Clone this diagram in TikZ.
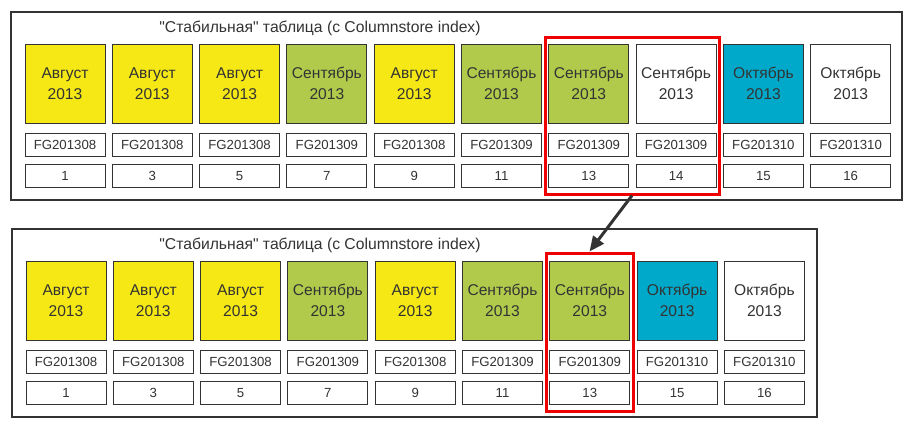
\documentclass[tikz,border=0pt]{standalone}
\usepackage{fontspec}
\setmainfont{Liberation Sans}
\usetikzlibrary{arrows.meta}
\definecolor{ink}{HTML}{333333}
\definecolor{ylw}{HTML}{F5E815}
\definecolor{grn}{HTML}{B1CA4B}
\definecolor{blu}{HTML}{00A9C9}
\definecolor{red}{HTML}{EE0000}
\begin{document}
\begin{tikzpicture}[x=1pt,y=-1pt,
  month/.style={draw=ink,line width=1pt,minimum width=80pt,minimum height=79pt,inner sep=0pt,
    align=center,text=ink,font=\fontsize{15.6}{21}\selectfont},
  small/.style={draw=ink,line width=0.9pt,fill=white,minimum width=80pt,minimum height=23pt,inner sep=0pt,
    text height=9.5pt,text depth=0pt,text=ink,font=\fontsize{13.2}{15}\selectfont},
  frame/.style={draw=ink,line width=2.5pt},
  redbox/.style={draw=red,line width=3pt,inner sep=0pt},
  ttl/.style={text=ink,font=\fontsize{15.7}{18}\selectfont,inner sep=0pt},
  arr/.style={draw=ink,line width=3pt,-{Triangle[length=15pt,width=13pt]}}]
\useasboundingbox (0,0) rectangle (916,429);
\fill[white] (0,0) rectangle (916,429);
% frames
\node[frame,minimum width=891pt,minimum height=188pt,inner sep=0pt] (ftop) at (456.5,106) {};
\node[frame,minimum width=805pt,minimum height=188pt,inner sep=0pt] (fbot) at (414.5,323) {};
\node[ttl] (ttop) at (320,28) {\textquotedbl Стабильная\textquotedbl{} таблица (с Columnstore index)};
\node[ttl] (tbot) at (320,245) {\textquotedbl Стабильная\textquotedbl{} таблица (с Columnstore index)};
% top row
\foreach \i/\c/\m/\f/\n in {0/ylw/Август/08/1,1/ylw/Август/08/3,2/ylw/Август/08/5,3/grn/Сентябрь/09/7,
  4/ylw/Август/08/9,5/grn/Сентябрь/09/11,6/grn/Сентябрь/09/13,7/white/Сентябрь/09/14,
  8/blu/Октябрь/10/15,9/white/Октябрь/10/16}{
  \node[month,fill=\c] (tm\i) at ({65+87.3*\i},83.5) {\m\\2013};
  \node[small] (tf\i) at ({65+87.3*\i},144.5) {FG2013\f};
  \node[small] (tn\i) at ({65+87.3*\i},175.5) {\n};
}
% bottom row
\foreach \i/\c/\m/\f/\n in {0/ylw/Август/08/1,1/ylw/Август/08/3,2/ylw/Август/08/5,3/grn/Сентябрь/09/7,
  4/ylw/Август/08/9,5/grn/Сентябрь/09/11,6/grn/Сентябрь/09/13,
  7/blu/Октябрь/10/15,8/white/Октябрь/10/16}{
  \node[month,fill=\c] (bm\i) at ({66+87.3*\i},300.5) {\m\\2013};
  \node[small] (bf\i) at ({66+87.3*\i},361.5) {FG2013\f};
  \node[small] (bn\i) at ({66+87.3*\i},393) {\n};
}
% red highlight boxes
\node[redbox,minimum width=174pt,minimum height=157pt] (rtop) at (632,115.5) {};
\node[redbox,minimum width=87pt,minimum height=158pt] (rbot) at (589.5,332) {};
\draw[arr] (rtop.south) -- (rbot.north);
\end{tikzpicture}
\end{document}
